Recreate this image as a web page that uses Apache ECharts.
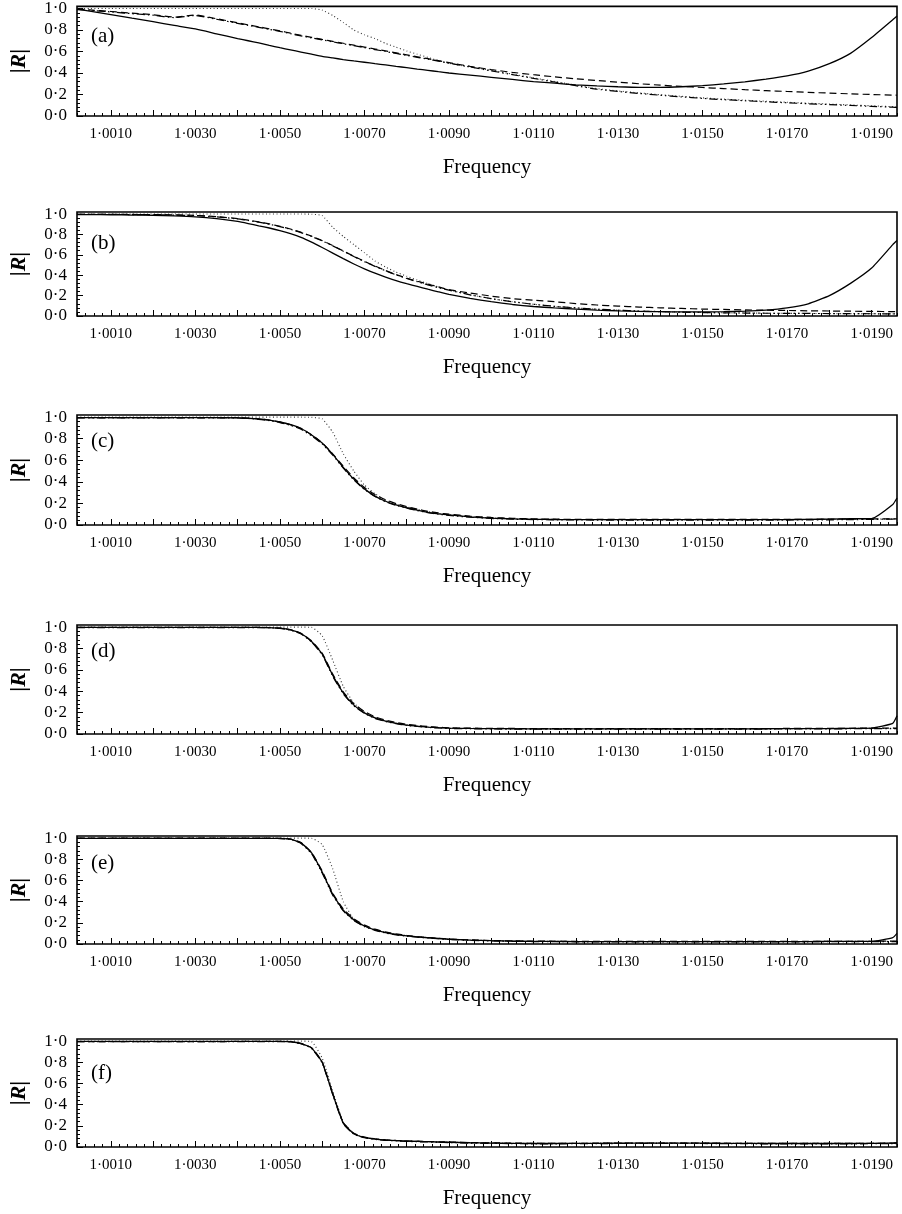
<!DOCTYPE html>
<html><head><meta charset="utf-8">
<script src="https://cdn.jsdelivr.net/npm/echarts@6/dist/echarts.min.js"></script>
<style>html,body{margin:0;padding:0;background:#fff}#c{width:902px;height:1214px}</style>
</head><body><div id="c"></div>
<script>
// shared frequency grid
const freq = [1.0002,1.0005,1.0010,1.0015,1.0020,1.0025,1.0030,1.0035,1.0040,
  1.00425,1.0045,1.00475,1.0050,1.00525,1.0055,1.00575,1.0060,1.00625,1.0065,1.00675,
  1.0070,1.00725,1.0075,1.00775,1.0080,1.00825,1.0085,1.00875,1.0090,
  1.0095,1.0100,1.0105,1.0110,1.0115,1.0120,1.0125,1.0130,1.0135,1.0140,1.0145,
  1.0150,1.0155,1.0160,1.0165,1.0170,1.0175,1.0180,1.0185,1.0190,1.0195,1.0196];

const panelLabels = ['(a)','(b)','(c)','(d)','(e)','(f)'];
const xLabelValues = [1.001,1.003,1.005,1.007,1.009,1.011,1.013,1.015,1.017,1.019];
const yLabelValues = [0,0.2,0.4,0.6,0.8,1.0];

// panel (a)
const aSolid = [0.995,0.975,0.944,0.91,0.877,0.843,0.81,0.765,0.72,
  0.70,0.68,0.657,0.635,0.615,0.595,0.575,0.555,0.54,0.525,0.512,0.50,0.487,0.475,0.462,0.45,0.437,0.425,0.412,0.40,
  0.38,0.36,0.34,0.32,0.305,0.29,0.28,0.272,0.267,0.267,0.272,0.282,0.298,0.318,0.343,0.373,0.418,0.487,0.583,0.73,0.895,
  0.93];
const aDashDot = [0.99,0.983,0.968,0.952,0.937,0.915,0.935,0.90,0.862,
  0.843,0.825,0.806,0.787,0.766,0.745,0.727,0.708,0.69,0.672,0.654,0.636,0.618,0.60,0.582,0.564,0.546,0.528,0.51,0.492,
  0.456,0.42,0.385,0.35,0.316,0.282,0.25,0.228,0.21,0.193,0.178,0.164,0.152,0.142,0.132,0.123,0.114,0.106,0.098,0.09,0.082,
  0.08];
const aDashed = [0.995,0.987,0.972,0.957,0.942,0.92,0.94,0.905,0.867,
  0.848,0.83,0.811,0.792,0.771,0.75,0.732,0.713,0.695,0.677,0.659,0.641,0.623,0.605,0.587,0.569,0.551,0.533,0.515,0.497,
  0.462,0.432,0.406,0.384,0.364,0.346,0.33,0.315,0.30,0.287,0.275,0.265,0.255,0.245,0.236,0.228,0.22,0.213,0.206,0.20,0.194,
  0.193];
const aDotted = [1,1,1,1,1,1,1,1,1,
  1,1,1,1,1,1,1,0.985,0.935,0.87,0.80,0.755,0.72,0.675,0.64,0.605,0.575,0.545,0.515,0.49,
  0.455,0.425,0.39,0.355,0.321,0.287,0.255,0.233,0.215,0.198,0.183,0.169,0.157,0.147,0.137,0.128,0.119,0.111,0.103,0.095,0.087,
  0.085];

// panel (b)
const bSolid = [0.995,0.995,0.993,0.99,0.987,0.982,0.973,0.955,0.927,
  0.907,0.885,0.863,0.838,0.808,0.772,0.725,0.672,0.617,0.562,0.51,0.463,0.42,0.382,0.347,0.317,0.29,0.263,0.237,0.212,
  0.172,0.14,0.113,0.093,0.079,0.068,0.058,0.05,0.045,0.042,0.04,0.04,0.042,0.047,0.058,0.08,0.12,0.2,0.32,0.47,0.70,
  0.74];
const bDashDot = [0.997,0.997,0.996,0.995,0.993,0.99,0.985,0.972,0.952,
  0.937,0.92,0.90,0.877,0.85,0.818,0.78,0.737,0.688,0.635,0.583,0.533,0.487,0.443,0.403,0.368,0.336,0.306,0.278,0.253,
  0.208,0.17,0.14,0.115,0.095,0.08,0.067,0.057,0.049,0.043,0.038,0.034,0.031,0.029,0.027,0.026,0.025,0.024,0.023,0.022,0.021,
  0.021];
const bDashed = [0.998,0.998,0.997,0.996,0.995,0.992,0.987,0.975,0.955,
  0.94,0.923,0.903,0.88,0.853,0.821,0.783,0.74,0.691,0.638,0.586,0.536,0.49,0.446,0.406,0.371,0.341,0.313,0.285,0.258,
  0.225,0.195,0.17,0.155,0.14,0.122,0.108,0.097,0.088,0.08,0.074,0.068,0.064,0.06,0.057,0.054,0.051,0.049,0.047,0.045,0.043,
  0.042];
const bDotted = [1,1,1,1,1,1,1,1,1,
  1,1,1,1,1,1,0.998,0.985,0.87,0.78,0.70,0.62,0.54,0.48,0.43,0.39,0.352,0.318,0.285,0.256,
  0.208,0.17,0.14,0.115,0.095,0.08,0.067,0.057,0.049,0.043,0.038,0.034,0.031,0.029,0.027,0.026,0.025,0.024,0.023,0.022,0.021,
  0.021];

// panel (c)
const cSolid = [0.995,0.995,0.995,0.995,0.995,0.995,0.995,0.995,0.994,
  0.99,0.983,0.972,0.955,0.93,0.895,0.835,0.76,0.655,0.535,0.425,0.335,0.268,0.22,0.186,0.16,0.137,0.118,0.104,0.093,
  0.075,0.064,0.057,0.053,0.051,0.05,0.05,0.05,0.05,0.05,0.05,0.05,0.05,0.05,0.05,0.05,0.052,0.055,0.058,0.06,0.19,
  0.25];
const cDashed = [0.996,0.996,0.996,0.996,0.996,0.996,0.996,0.996,0.995,
  0.991,0.984,0.973,0.956,0.931,0.896,0.837,0.763,0.66,0.545,0.437,0.348,0.282,0.234,0.198,0.171,0.147,0.127,0.112,0.1,
  0.082,0.07,0.062,0.057,0.054,0.053,0.052,0.052,0.052,0.052,0.052,0.052,0.052,0.052,0.052,0.052,0.053,0.054,0.055,0.056,0.056,
  0.056];
const cDashDot = [0.994,0.994,0.994,0.994,0.994,0.994,0.994,0.994,0.993,
  0.988,0.98,0.968,0.95,0.924,0.888,0.828,0.752,0.648,0.528,0.418,0.33,0.264,0.216,0.182,0.157,0.134,0.115,0.1,0.089,
  0.072,0.061,0.054,0.05,0.048,0.047,0.046,0.046,0.046,0.046,0.046,0.046,0.046,0.046,0.046,0.046,0.047,0.048,0.05,0.052,0.055,
  0.056];
const cDotted = [1,1,1,1,1,1,1,1,1,
  1,1,1,1,1,1,0.998,0.985,0.86,0.66,0.50,0.37,0.29,0.23,0.195,0.168,0.143,0.124,0.108,0.096,
  0.077,0.065,0.058,0.054,0.052,0.051,0.05,0.05,0.05,0.05,0.05,0.05,0.05,0.05,0.05,0.05,0.051,0.053,0.055,0.056,0.056,
  0.056];

// panel (d)
const dSolid = [0.997,0.997,0.997,0.997,0.997,0.997,0.997,0.997,0.997,
  0.997,0.997,0.995,0.99,0.975,0.94,0.865,0.75,0.55,0.385,0.27,0.198,0.15,0.12,0.10,0.084,0.073,0.065,0.059,0.055,
  0.052,0.05,0.049,0.048,0.048,0.048,0.048,0.048,0.048,0.048,0.048,0.048,0.048,0.048,0.049,0.05,0.05,0.051,0.052,0.055,0.10,
  0.17];
const dDashed = [0.998,0.998,0.998,0.998,0.998,0.998,0.998,0.998,0.998,
  0.998,0.998,0.996,0.991,0.977,0.943,0.87,0.757,0.56,0.395,0.283,0.211,0.161,0.13,0.108,0.091,0.079,0.07,0.063,0.058,
  0.055,0.053,0.052,0.051,0.051,0.051,0.051,0.051,0.051,0.051,0.051,0.051,0.051,0.051,0.051,0.052,0.052,0.053,0.054,0.055,0.056,
  0.056];
const dDashDot = [0.996,0.996,0.996,0.996,0.996,0.996,0.996,0.996,0.996,
  0.996,0.996,0.994,0.988,0.972,0.936,0.86,0.743,0.54,0.376,0.264,0.194,0.146,0.117,0.097,0.08,0.07,0.062,0.056,0.052,
  0.049,0.047,0.046,0.045,0.045,0.045,0.045,0.045,0.045,0.045,0.045,0.045,0.045,0.045,0.046,0.047,0.047,0.048,0.049,0.05,0.05,
  0.05];
const dDotted = [1,1,1,1,1,1,1,1,1,
  1,1,1,1,1,1,0.998,0.92,0.69,0.445,0.29,0.205,0.152,0.123,0.102,0.085,0.075,0.066,0.06,0.056,
  0.053,0.051,0.05,0.049,0.049,0.049,0.049,0.049,0.049,0.049,0.049,0.049,0.049,0.049,0.05,0.05,0.051,0.051,0.052,0.053,0.053,
  0.053];

// panel (e)
const eSolid = [0.998,0.998,0.998,0.998,0.998,0.998,0.998,0.998,0.998,
  0.998,0.998,0.998,0.997,0.99,0.955,0.86,0.68,0.47,0.32,0.228,0.17,0.133,0.108,0.09,0.077,0.067,0.059,0.052,0.045,
  0.037,0.031,0.027,0.025,0.024,0.023,0.023,0.023,0.023,0.023,0.023,0.023,0.023,0.023,0.023,0.023,0.023,0.024,0.024,0.025,0.06,
  0.10];
const eDashed = [0.999,0.999,0.999,0.999,0.999,0.999,0.999,0.999,0.999,
  0.999,0.999,0.999,0.998,0.991,0.958,0.865,0.69,0.48,0.33,0.238,0.178,0.14,0.114,0.095,0.081,0.07,0.061,0.054,0.047,
  0.039,0.033,0.029,0.027,0.026,0.025,0.025,0.025,0.025,0.025,0.025,0.025,0.025,0.025,0.025,0.025,0.025,0.026,0.026,0.026,0.027,
  0.027];
const eDashDot = [0.997,0.997,0.997,0.997,0.997,0.997,0.997,0.997,0.997,
  0.997,0.997,0.997,0.996,0.988,0.95,0.852,0.67,0.46,0.312,0.221,0.164,0.128,0.104,0.086,0.074,0.065,0.057,0.05,0.043,
  0.035,0.029,0.025,0.023,0.022,0.021,0.021,0.021,0.021,0.021,0.021,0.021,0.021,0.021,0.021,0.021,0.021,0.022,0.022,0.022,0.023,
  0.023];
const eDotted = [1,1,1,1,1,1,1,1,1,
  1,1,1,1,1,1,0.998,0.94,0.71,0.40,0.235,0.172,0.135,0.11,0.092,0.079,0.069,0.061,0.053,0.046,
  0.038,0.032,0.028,0.026,0.025,0.024,0.024,0.024,0.024,0.024,0.024,0.024,0.024,0.024,0.024,0.024,0.024,0.025,0.025,0.025,0.026,
  0.026];

// panel (f)
const fSolid = [0.997,0.997,0.997,0.997,0.997,0.997,0.997,0.997,0.997,
  0.997,0.997,0.997,0.997,0.994,0.977,0.935,0.80,0.50,0.225,0.125,0.09,0.075,0.066,0.06,0.056,0.053,0.05,0.047,0.045,
  0.04,0.037,0.035,0.033,0.033,0.034,0.035,0.036,0.037,0.037,0.037,0.036,0.035,0.034,0.033,0.033,0.033,0.033,0.033,0.034,0.037,
  0.04];
const fDashed = [0.995,0.995,0.995,0.995,0.995,0.995,0.995,0.995,0.997,
  0.998,0.998,0.998,0.998,0.995,0.978,0.938,0.805,0.505,0.23,0.129,0.093,0.078,0.068,0.062,0.058,0.055,0.052,0.049,0.047,
  0.042,0.039,0.037,0.035,0.035,0.035,0.036,0.037,0.038,0.038,0.038,0.037,0.036,0.035,0.034,0.034,0.034,0.034,0.034,0.035,0.036,
  0.036];
const fDashDot = [0.996,0.996,0.996,0.996,0.996,0.996,0.996,0.996,0.996,
  0.996,0.996,0.996,0.996,0.993,0.975,0.93,0.795,0.495,0.22,0.121,0.087,0.072,0.063,0.057,0.053,0.05,0.047,0.044,0.042,
  0.037,0.034,0.032,0.03,0.03,0.031,0.032,0.033,0.034,0.034,0.034,0.033,0.032,0.031,0.03,0.03,0.03,0.03,0.03,0.031,0.032,
  0.032];
const fDotted = [1,1,1,1,1,1,1,1,1,
  1,1,1,1,1,1,0.995,0.84,0.53,0.235,0.128,0.091,0.076,0.067,0.061,0.057,0.054,0.051,0.048,0.046,
  0.041,0.038,0.036,0.034,0.034,0.035,0.036,0.037,0.038,0.038,0.038,0.037,0.036,0.035,0.034,0.034,0.034,0.034,0.034,0.035,0.036,
  0.036];

const panelSeries = [
  [aSolid,aDashed,aDashDot,aDotted],
  [bSolid,bDashed,bDashDot,bDotted],
  [cSolid,cDashed,cDashDot,cDotted],
  [dSolid,dDashed,dDashDot,dDotted],
  [eSolid,eDashed,eDashDot,eDotted],
  [fSolid,fDashed,fDashDot,fDotted]
];

// layout
const gridTops    = [6, 212, 415, 625, 836, 1039];
const gridHeights = [110, 104, 110, 109, 108, 108];
const labelCenters = [33, 240, 438, 648, 860, 1070];

const FONT = '"Liberation Serif", "Times New Roman", serif';
const X_MIN = 1.0002, X_MAX = 1.0196;
const xMajorTicks = [];
for (let k = 1; k <= 19; k++) xMajorTicks.push(+(1 + k / 1000).toFixed(4));
const xMinorTicks = [];
for (let j = 0; j <= 97; j++) xMinorTicks.push(+((10002 + 2 * j) / 10000).toFixed(4));
const yMinorTicks = [];
for (let j = 0; j <= 25; j++) yMinorTicks.push(+(j * 0.04).toFixed(2));

const styles = [
  {type:'solid', width:1.3, color:'#000'},
  {type:[7,4], width:1.2, color:'#000'},
  {type:[8,3,1.5,3,1.5,3], width:1.2, color:'#000'},
  {type:[1,2.5], width:1.1, color:'#333'}
];

const grids=[], xAxes=[], yAxes=[], series=[], titles=[];
panelSeries.forEach((set, i) => {
  grids.push({left:73, width:824, top:gridTops[i], height:gridHeights[i], show:true,
    borderColor:'#000', borderWidth:1.6, backgroundColor:'transparent'});
  xAxes.push({type:'value', gridIndex:i, min:X_MIN, max:X_MAX, position:'bottom',
    axisLine:{show:false}, splitLine:{show:false},
    axisTick:{show:true, inside:true, length:6, customValues:xMajorTicks, lineStyle:{color:'#000', width:1}},
    axisLabel:{show:true, customValues:xLabelValues, margin:11, color:'#000', fontFamily:FONT, fontSize:15,
      formatter: v => v.toFixed(4).replace('.', '\u00b7')},
    name:'Frequency', nameLocation:'middle', nameGap:41,
    nameTextStyle:{fontFamily:FONT, fontSize:21, color:'#000'}});
  xAxes.push({type:'value', gridIndex:i, min:X_MIN, max:X_MAX, position:'bottom',
    axisLine:{show:false}, splitLine:{show:false}, axisLabel:{show:false},
    axisTick:{show:true, inside:true, length:3, customValues:xMinorTicks, lineStyle:{color:'#000', width:1}}});
  yAxes.push({type:'value', gridIndex:i, min:0, max:1.02, position:'left',
    axisLine:{show:false}, splitLine:{show:false},
    axisTick:{show:true, inside:true, length:6, customValues:yLabelValues, lineStyle:{color:'#000', width:1}},
    axisLabel:{show:true, customValues:yLabelValues, margin:10, color:'#000', fontFamily:FONT, fontSize:17,
      formatter: v => v.toFixed(1).replace('.', '\u00b7')},
    name:'{b||}{i|R}{b||}', nameLocation:'middle', nameGap:47, nameRotate:90,
    nameTextStyle:{fontFamily:FONT, fontSize:22, fontWeight:'bold', color:'#000',
      rich:{b:{fontFamily:FONT, fontSize:22, fontWeight:'bold', color:'#000'},
            i:{fontFamily:FONT, fontSize:22, fontStyle:'italic', fontWeight:'bold', color:'#000'}}}});
  yAxes.push({type:'value', gridIndex:i, min:0, max:1.02, position:'left',
    axisLine:{show:false}, splitLine:{show:false}, axisLabel:{show:false},
    axisTick:{show:true, inside:true, length:3, customValues:yMinorTicks, lineStyle:{color:'#000', width:1}}});
  // draw order: dotted, dash-dot, dashed, solid
  [3,2,1,0].forEach(s => {
    series.push({type:'line', xAxisIndex:2*i, yAxisIndex:2*i, showSymbol:false, symbol:'none',
      smooth:0.15, silent:true, animation:false,
      lineStyle:styles[s], data: freq.map((f, k) => [f, set[s][k]])});
  });
  titles.push({text:panelLabels[i], left:86, top:labelCenters[i] - 12,
    textStyle:{fontFamily:FONT, fontSize:21, fontWeight:'normal', color:'#000'}});
});

const chart = echarts.init(document.getElementById('c'), null, {renderer:'canvas'});
chart.setOption({
  backgroundColor:'#fff', animation:false,
  title:titles, grid:grids, xAxis:xAxes, yAxis:yAxes, series:series
});
</script></body></html>
